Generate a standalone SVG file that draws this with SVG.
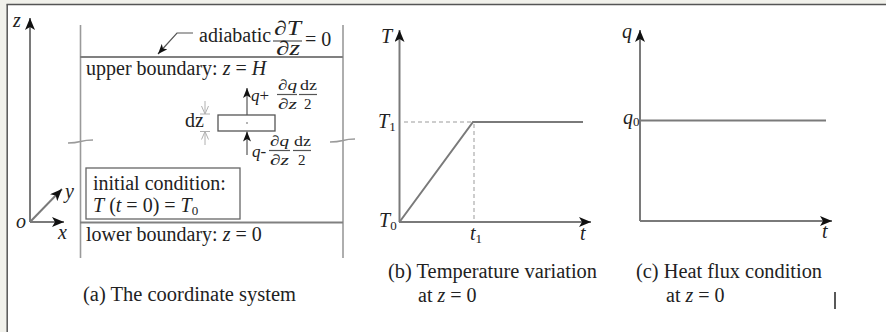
<svg xmlns="http://www.w3.org/2000/svg" width="886" height="332" viewBox="0 0 886 332">
<style>
text{font-family:"Liberation Serif","Times New Roman",serif;font-size:20px;fill:#222}
.it{font-style:italic}
.s{font-size:17px}
.f{font-size:15px}
.sub{font-size:13px;font-style:normal}
.ax{stroke:#7a7a7a;stroke-width:2;fill:none}
.dom{stroke:#9a9a9a;stroke-width:1.6;fill:none}
.bd{stroke:#808080;stroke-width:2;fill:none}
.dash{stroke:#bdbdbd;stroke-width:1.5;stroke-dasharray:4 3;fill:none}
.thin{stroke:#555;stroke-width:1.2;fill:none}
.dim{stroke:#b0b0b0;stroke-width:1;fill:none}
</style>
<defs>
<marker id="ah" viewBox="0 0 12 10" markerWidth="12" markerHeight="10" refX="12" refY="5" orient="auto" markerUnits="userSpaceOnUse">
<path d="M0,0 L12,5 L0,10 L3,5 z" fill="#111"/>
</marker>
<marker id="ahs" viewBox="0 0 10 8" markerWidth="10" markerHeight="8" refX="10" refY="4" orient="auto" markerUnits="userSpaceOnUse">
<path d="M0,0 L10,4 L0,8 L2.5,4 z" fill="#111"/>
</marker>
<marker id="ao" viewBox="0 0 8 8" markerWidth="8" markerHeight="8" refX="8" refY="4" orient="auto" markerUnits="userSpaceOnUse">
<path d="M0,0.5 L8,4 L0,7.5" fill="none" stroke="#b0b0b0" stroke-width="1"/>
</marker>
</defs>
<rect x="0" y="0" width="886" height="332" fill="#ffffff"/>
<rect x="0" y="0" width="886" height="4" fill="#f1f1eb"/>
<rect x="0" y="0" width="7" height="332" fill="#f1f1eb"/>
<line x1="6.5" y1="4.5" x2="886" y2="4.5" stroke="#555" stroke-width="1.5"/>
<line x1="7.2" y1="4.5" x2="7.2" y2="332" stroke="#555" stroke-width="1.5"/>

<g id="panel-a">
<g id="axes-a">
<line class="ax" x1="30" y1="222" x2="30" y2="18" marker-end="url(#ah)"/>
<line class="ax" x1="30" y1="222" x2="64" y2="222" marker-end="url(#ah)"/>
<line class="ax" x1="30" y1="222" x2="62" y2="189" marker-end="url(#ah)"/>
<text x="13" y="27" class="it">z</text>
<text x="16" y="228" class="it">o</text>
<text x="58" y="239" class="it">x</text>
<text x="65" y="198" class="it">y</text>
</g>
<g id="domain">
<line class="dom" x1="80.5" y1="25" x2="80.5" y2="258"/>
<line class="dom" x1="343" y1="25" x2="343" y2="258"/>
<path class="dom" d="M68,143 Q75,143 80.5,141.5 Q86,140 93,140"/>
<path class="dom" d="M330,142 Q337,142 343,140.5 Q348,139 355,139"/>
<line class="bd" x1="80" y1="57" x2="343" y2="57"/>
<line class="bd" x1="80" y1="222.5" x2="343" y2="222.5"/>
</g>
<g id="adiabatic-label">
<text x="199" y="42" font-size="18">adiabatic</text>
<text x="274" y="35" font-size="16" textLength="27" lengthAdjust="spacingAndGlyphs">∂<tspan class="it">T</tspan></text>
<line class="thin" x1="273" y1="41" x2="302" y2="41"/>
<text x="276" y="55" font-size="16" textLength="24" lengthAdjust="spacingAndGlyphs">∂<tspan class="it">z</tspan></text>
<text x="305" y="46">= 0</text>
</g>
<g id="upper-boundary"><text x="86" y="75">upper boundary: <tspan class="it">z</tspan> = <tspan class="it">H</tspan></text></g>
<g id="lower-boundary"><text x="86" y="241">lower boundary: <tspan class="it">z</tspan> = 0</text></g>
<g id="initial-condition">
<rect x="86" y="168" width="154" height="51" fill="none" stroke="#666" stroke-width="1.3"/>
<text x="93" y="190">initial condition:</text>
<text x="93" y="212"><tspan class="it">T</tspan> (<tspan class="it">t</tspan> = 0) = <tspan class="it">T</tspan><tspan class="sub" dy="3">0</tspan></text>
</g>
<g id="element">
<rect x="218" y="115" width="57" height="16" fill="#fff" stroke="#555" stroke-width="1.3"/>
<circle cx="247" cy="123" r="0.8" fill="#555"/>
<text x="185" y="127" font-size="18">dz</text>
<line class="dim" x1="200" y1="114" x2="210" y2="114"/>
<line class="dim" x1="200" y1="131.5" x2="210" y2="131.5"/>
</g>
<g id="flux-labels">
<text x="251" y="101" class="s"><tspan class="it">q</tspan>+</text>
<text x="278" y="90" class="f" textLength="19" lengthAdjust="spacingAndGlyphs">∂<tspan class="it">q</tspan></text>
<line class="thin" x1="277" y1="94.5" x2="297" y2="94.5"/>
<text x="278" y="109" class="f" textLength="19" lengthAdjust="spacingAndGlyphs">∂<tspan class="it">z</tspan></text>
<text x="300" y="90" class="f" textLength="17" lengthAdjust="spacingAndGlyphs">dz</text>
<line class="thin" x1="299" y1="94.5" x2="317" y2="94.5"/>
<text x="304" y="109" class="f">2</text>
<text x="252" y="157" class="s"><tspan class="it">q</tspan>-</text>
<text x="270" y="146" class="f" textLength="19" lengthAdjust="spacingAndGlyphs">∂<tspan class="it">q</tspan></text>
<line class="thin" x1="269" y1="150.5" x2="290" y2="150.5"/>
<text x="270" y="165" class="f" textLength="19" lengthAdjust="spacingAndGlyphs">∂<tspan class="it">z</tspan></text>
<text x="294" y="146" class="f" textLength="17" lengthAdjust="spacingAndGlyphs">dz</text>
<line class="thin" x1="293" y1="150.5" x2="311" y2="150.5"/>
<text x="298" y="165" class="f">2</text>
</g>
<g id="caption-a"><text x="83" y="301" textLength="213" lengthAdjust="spacingAndGlyphs">(a) The coordinate system</text></g>
</g>

<g id="connectors">
<path class="thin" d="M193,33 L177,33 L158,54" marker-end="url(#ahs)"/>
<line class="thin" x1="247" y1="115" x2="247" y2="88" marker-end="url(#ahs)"/>
<line class="thin" x1="247" y1="155" x2="247" y2="131.5" marker-end="url(#ahs)"/>
<line class="dim" x1="205" y1="101" x2="205" y2="114" marker-end="url(#ao)"/>
<line class="dim" x1="205" y1="145" x2="205" y2="131.5" marker-end="url(#ao)"/>
</g>

<g id="panel-b">
<line class="ax" x1="399.5" y1="222" x2="399.5" y2="30" marker-end="url(#ah)"/>
<line class="ax" x1="399" y1="222" x2="591" y2="222" marker-end="url(#ah)"/>
<line class="dash" x1="404" y1="122" x2="473" y2="122"/>
<line class="dash" x1="474" y1="124" x2="474" y2="221"/>
<polyline class="ax" points="399.5,222 473,122 583,122"/>
<text x="381" y="43" class="it">T</text>
<text x="378" y="128" class="it">T<tspan class="sub" dy="3">1</tspan></text>
<text x="379" y="227" class="it">T<tspan class="sub" dy="3">0</tspan></text>
<text x="470" y="240" class="it">t<tspan class="sub" dy="3">1</tspan></text>
<text x="580" y="240" class="it">t</text>
<text x="388" y="278" textLength="209" lengthAdjust="spacingAndGlyphs">(b) Temperature variation</text>
<text x="418" y="302">at <tspan class="it">z</tspan> = 0</text>
</g>

<g id="panel-c">
<line class="ax" x1="640" y1="221" x2="640" y2="30" marker-end="url(#ah)"/>
<line class="ax" x1="640" y1="221" x2="832" y2="221" marker-end="url(#ah)"/>
<line class="ax" x1="640" y1="120.5" x2="826" y2="120.5"/>
<text x="622" y="38" class="it">q</text>
<text x="623" y="124" class="it">q<tspan class="sub" dy="2">0</tspan></text>
<text x="822" y="238" class="it">t</text>
<text x="636" y="278" textLength="186" lengthAdjust="spacingAndGlyphs">(c) Heat flux condition</text>
<text x="666" y="302">at <tspan class="it">z</tspan> = 0</text>
<line x1="835" y1="292" x2="835" y2="309" stroke="#222" stroke-width="1.5"/>
</g>
</svg>
